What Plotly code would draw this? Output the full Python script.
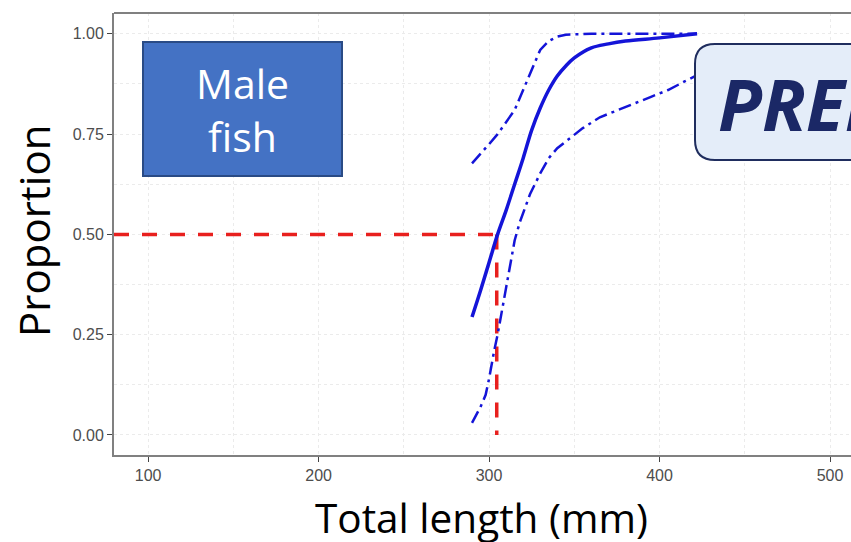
import plotly.graph_objects as go

# ---- data ----
main_x = [290, 295, 300, 305, 310, 315, 320, 325, 330, 335, 340, 345, 350, 360, 370, 380, 400, 422]
main_y = [0.294, 0.36, 0.43, 0.50, 0.56, 0.625, 0.69, 0.76, 0.815, 0.86, 0.895, 0.92, 0.94, 0.965, 0.975, 0.982, 0.99, 1.0]

upper_x = [290, 295, 300, 305, 310, 315, 320, 325, 330, 335, 340, 345, 350, 360, 380, 400, 422]
upper_y = [0.677, 0.70, 0.725, 0.75, 0.78, 0.81, 0.86, 0.91, 0.96, 0.982, 0.993, 0.998, 0.999, 1.0, 1.0, 1.0, 1.0]

lower_x = [290, 295, 298, 300, 303, 305, 308, 310, 312, 315, 318, 321, 324, 330, 335, 340, 346, 355, 365, 375, 385, 395, 405, 415, 422]
lower_y = [0.03, 0.07, 0.10, 0.14, 0.21, 0.25, 0.32, 0.37, 0.42, 0.485, 0.53, 0.565, 0.60, 0.652, 0.69, 0.715, 0.735, 0.765, 0.792, 0.81, 0.826, 0.843, 0.86, 0.882, 0.897]

l50 = 304.5          # length at 50 % maturity
p50 = 0.5

x_ticks = [100, 200, 300, 400, 500]
y_ticks = [0.0, 0.25, 0.5, 0.75, 1.0]
y_ticktext = ["0.00", "0.25", "0.50", "0.75", "1.00"]

x_range = [80, 512.3]
y_range = [-0.05, 1.052]

# ---- figure geometry (pixels) ----
W, H = 851, 542
ML, MR, MT, MB = 114, 0, 13, 87
PW, PH = W - ML - MR, H - MT - MB


def px(xp):
    return (xp - ML) / PW


def py(yp):
    return (H - MB - yp) / PH


blue = "#1414d8"
red = "#e8201e"

fig = go.Figure()

fig.add_trace(go.Scatter(x=[x_range[0], l50], y=[p50, p50], mode="lines",
                         line=dict(color=red, width=3.5, dash="15px,13px"),
                         hoverinfo="skip", cliponaxis=False))
fig.add_trace(go.Scatter(x=[l50, l50], y=[p50, 0], mode="lines",
                         line=dict(color=red, width=3.5, dash="15px,13px"),
                         hoverinfo="skip"))

fig.add_trace(go.Scatter(x=upper_x, y=upper_y, mode="lines",
                         line=dict(color=blue, width=2.5, dash="13px,5px,3px,5px"),
                         hoverinfo="skip"))
fig.add_trace(go.Scatter(x=lower_x, y=lower_y, mode="lines",
                         line=dict(color=blue, width=2.5, dash="13px,5px,3px,5px"),
                         hoverinfo="skip"))
fig.add_trace(go.Scatter(x=main_x, y=main_y, mode="lines",
                         line=dict(color=blue, width=3.5, shape="spline"),
                         hoverinfo="skip"))

tickfont = dict(family="Liberation Sans, Arial", size=16, color="#4d4d4d")
grid = dict(gridcolor="#ebebeb", griddash="dot", gridwidth=1.2)

fig.update_xaxes(range=x_range, tickvals=x_ticks, ticks="outside", ticklen=5,
                 tickcolor="#444", tickwidth=1, tickfont=tickfont,
                 showline=True, linecolor="#808080", linewidth=2,
                 showgrid=True, zeroline=False, **grid,
                 minor=dict(showgrid=True, dtick=50, tick0=50, ticks="", **grid))
fig.update_yaxes(range=y_range, tickvals=y_ticks, ticktext=y_ticktext,
                 ticks="outside", ticklen=5, tickcolor="#444", tickwidth=1,
                 tickfont=tickfont, showline=True, linecolor="#808080", linewidth=2,
                 showgrid=True, zeroline=False, **grid,
                 minor=dict(showgrid=True, dtick=0.125, tick0=0.125, ticks="", **grid))

shapes = []
# top border of panel
shapes.append(dict(type="line", xref="paper", yref="paper", x0=0, x1=1, y0=1, y1=1,
                   line=dict(color="#808080", width=2)))
# Male fish box
shapes.append(dict(type="rect", xref="paper", yref="paper",
                   x0=px(143), x1=px(342), y0=py(176), y1=py(42),
                   fillcolor="#4472c4", line=dict(color="#2a4b85", width=2)))
# PRELIMINARY rounded box
bx0, bx1, by0, by1, r = 695, 960, 44, 160, 20
path = (f"M {px(bx0 + r)} {py(by0)} L {px(bx1)} {py(by0)} L {px(bx1)} {py(by1)} "
        f"L {px(bx0 + r)} {py(by1)} "
        f"Q {px(bx0)} {py(by1)} {px(bx0)} {py(by1 - r)} "
        f"L {px(bx0)} {py(by0 + r)} "
        f"Q {px(bx0)} {py(by0)} {px(bx0 + r)} {py(by0)} Z")
shapes.append(dict(type="path", xref="paper", yref="paper", path=path,
                   fillcolor="#e4edf9", line=dict(color="#1f2d5e", width=2)))

annotations = [
    dict(text="Male<br>fish", xref="paper", yref="paper", x=px(242), y=py(109),
         xanchor="center", yanchor="middle", showarrow=False,
         font=dict(family="Open Sans", size=41, color="white")),
    dict(text="<b><i>PRELIMINARY</i></b>", xref="paper", yref="paper", x=px(716), y=py(103),
         xanchor="left", yanchor="middle", showarrow=False,
         font=dict(family="Open Sans", size=72, color="#1b2866")),
    dict(text="Total length (mm)", xref="paper", yref="paper", x=px(481.5), y=py(517),
         xanchor="center", yanchor="middle", showarrow=False,
         font=dict(family="Open Sans", size=40.5, color="black")),
    dict(text="Proportion", xref="paper", yref="paper", x=px(33), y=py(231),
         xanchor="center", yanchor="middle", showarrow=False, textangle=-90,
         font=dict(family="Open Sans", size=42, color="black")),
]

fig.update_layout(width=W, height=H, margin=dict(l=ML, r=MR, t=MT, b=MB),
                  paper_bgcolor="white", plot_bgcolor="white", showlegend=False,
                  shapes=shapes, annotations=annotations)

fig.write_html("out.html", config={"displayModeBar": False},
               post_script="document.body.style.margin='0px';document.body.style.overflow='hidden';")
